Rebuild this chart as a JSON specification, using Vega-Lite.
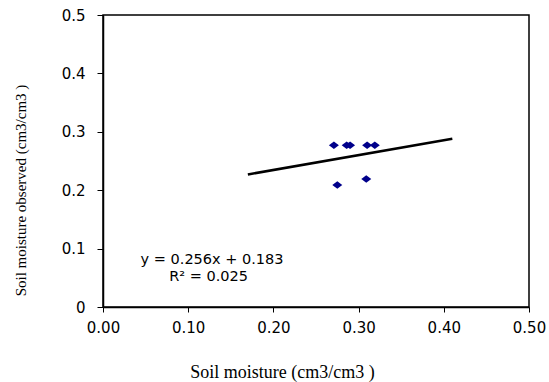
{
  "$schema": "https://vega.github.io/schema/vega-lite/v6.json",
  "autosize": "none",
  "width": 426,
  "height": 292,
  "padding": {"left": 103, "top": 15, "right": 20, "bottom": 75},
  "background": "white",
  "config": {
    "view": {"stroke": "#000000", "strokeWidth": 1.5},
    "axis": {
      "grid": false,
      "domainColor": "#000000",
      "domainWidth": 1.5,
      "tickColor": "#000000",
      "labelColor": "#000000",
      "labelFont": "DejaVu Sans",
      "labelFontSize": 15,
      "labelOverlap": false,
      "labelFlush": false,
      "labelBound": false,
      "titleFont": "Liberation Serif",
      "titleFontWeight": "normal",
      "titleColor": "#000000",
      "titleBaseline": "middle",
      "titleAlign": "center"
    }
  },
  "datasets": {
    "obs": [
      {"x": 0.271, "y": 0.277},
      {"x": 0.286, "y": 0.277},
      {"x": 0.290, "y": 0.277},
      {"x": 0.310, "y": 0.277},
      {"x": 0.319, "y": 0.277},
      {"x": 0.275, "y": 0.209},
      {"x": 0.309, "y": 0.219}
    ],
    "fit": [
      {"x": 0.17, "y": 0.227},
      {"x": 0.41, "y": 0.288}
    ],
    "eq": [
      {"label": "y = 0.256x  + 0.183", "x": 0.128, "y": 0.081},
      {"label": "R² = 0.025", "x": 0.124, "y": 0.052}
    ]
  },
  "layer": [
    {
      "data": {"name": "fit"},
      "mark": {"type": "line", "color": "#000000", "strokeWidth": 2.5},
      "encoding": {
        "x": {
          "field": "x", "type": "quantitative",
          "scale": {"domain": [0, 0.5], "nice": false},
          "axis": {
            "values": [0, 0.1, 0.2, 0.3, 0.4, 0.5],
            "format": ".2f",
            "tickSize": 5,
            "labelPadding": 8,
            "title": "Soil  moisture (cm3/cm3 )",
            "titleFontSize": 18,
            "titleX": 179,
            "titleY": 65
          }
        },
        "y": {
          "field": "y", "type": "quantitative",
          "scale": {"domain": [0, 0.5], "nice": false},
          "axis": {
            "values": [0, 0.1, 0.2, 0.3, 0.4, 0.5],
            "format": ".1~f",
            "tickSize": 6,
            "labelPadding": 12,
            "title": "Soil moisture observed (cm3/cm3 )",
            "titleFontSize": 15,
            "titleX": -83,
            "titleY": 175
          }
        }
      }
    },
    {
      "data": {"name": "obs"},
      "mark": {"type": "point", "shape": "M-1,0L0,-0.75L1,0L0,0.75Z", "filled": true, "color": "#00008B", "size": 100, "opacity": 1},
      "encoding": {
        "x": {"field": "x", "type": "quantitative"},
        "y": {"field": "y", "type": "quantitative"}
      }
    },
    {
      "data": {"name": "eq"},
      "mark": {"type": "text", "font": "DejaVu Sans", "fontSize": 14.5, "color": "#000000", "align": "center", "baseline": "middle"},
      "encoding": {
        "x": {"field": "x", "type": "quantitative"},
        "y": {"field": "y", "type": "quantitative"},
        "text": {"field": "label"}
      }
    }
  ]
}
